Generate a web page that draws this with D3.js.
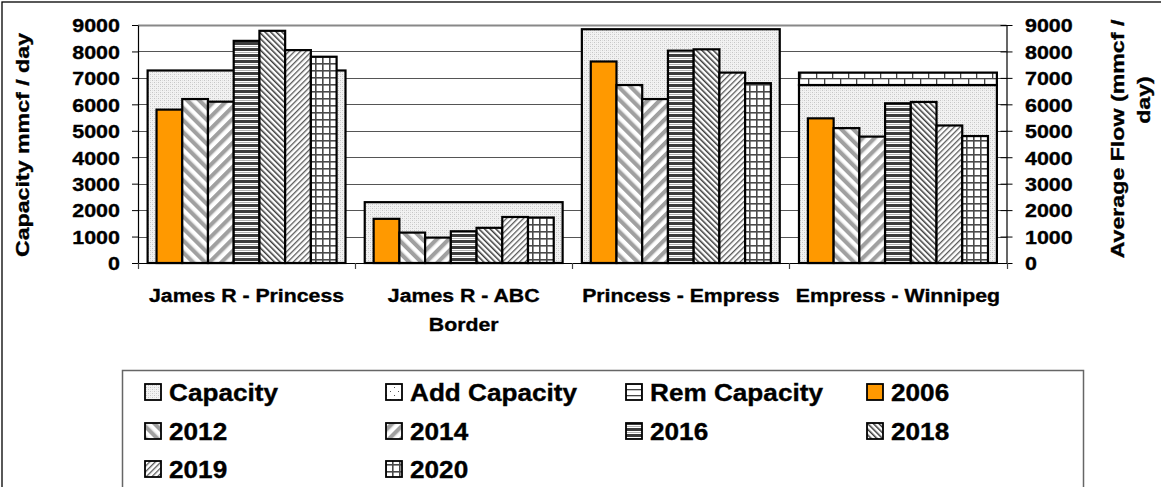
<!DOCTYPE html>
<html><head><meta charset="utf-8">
<script src="https://cdn.jsdelivr.net/npm/d3@7"></script>
<style>
html,body{margin:0;padding:0;background:#fff;}
svg{display:block;font-family:"Liberation Sans",Arial,sans-serif;font-weight:bold;}
svg text{stroke:#000;stroke-width:0.35px;}
</style></head><body>
<svg id="c" width="1161" height="487"></svg>
<script>
// ---------- data ----------
const categories = ["James R - Princess", "James R - ABC Border", "Princess - Empress", "Empress - Winnipeg"];
const categoryLines = [["James R - Princess"], ["James R - ABC", "Border"], ["Princess - Empress"], ["Empress - Winnipeg"]];
const capacity    = [7280, 2300, 8840, 6730];
const addCapacity = [0, 0, 0, 0];
const remCapacity = [0, 0, 0, 470];
const flow2006 = [5800, 1670, 7620, 5470];
const flow2012 = [6200, 1150, 6730, 5100];
const flow2014 = [6100, 960, 6200, 4780];
const flow2016 = [8400, 1200, 8030, 6040];
const flow2018 = [8780, 1330, 8080, 6090];
const flow2019 = [8050, 1740, 7200, 5200];
const flow2020 = [7800, 1720, 6800, 4800];
const years = ["2006", "2012", "2014", "2016", "2018", "2019", "2020"];
const yTicks = [0, 1000, 2000, 3000, 4000, 5000, 6000, 7000, 8000, 9000];
const legendLabels = ["Capacity", "Add Capacity", "Rem Capacity", "2006", "2012", "2014", "2016", "2018", "2019", "2020"];
const leftTitle = "Capacity mmcf / day";
const rightTitleLines = ["Average Flow (mmcf /", "day)"];

const flowSeries = [flow2006, flow2012, flow2014, flow2016, flow2018, flow2019, flow2020];

// ---------- setup ----------
const svg = d3.select("#c");
const defs = svg.append("defs");
function pat(id, w, h, tr, draw) {
  const p = defs.append("pattern").attr("id", id).attr("patternUnits", "userSpaceOnUse")
    .attr("width", w).attr("height", h);
  if (tr) p.attr("patternTransform", tr);
  draw(p);
}
function r(p, x, y, w, h, f) { p.append("rect").attr("x", x).attr("y", y).attr("width", w).attr("height", h).attr("fill", f); }

pat("pCap", 4, 4, null, p => { r(p,0,0,4,4,"#f2f2f2"); r(p,0,0,1,1,"#c6c6c6"); r(p,2,2,1,1,"#c6c6c6"); r(p,2,0,1,1,"#dedede"); r(p,0,2,1,1,"#dedede"); });
pat("pAdd", 8, 8, null, p => { r(p,0,0,8,8,"#fff"); r(p,1,2,1,1,"#555"); r(p,5,6,1,1,"#555"); });
pat("pRem", 16, 6, null, p => { r(p,0,0,16,6,"#fff"); r(p,0,0,16,1.3,"#444"); r(p,0,0,1.3,6,"#444"); });
pat("pRem2", 16, 12, null, p => { r(p,0,0,16,12,"#fff"); r(p,0,0,16,1.3,"#444"); r(p,0,6,16,1.3,"#444"); r(p,0,0,1.3,6,"#444"); r(p,8,6,1.3,6,"#444"); });
pat("p2012", 8.5, 8.5, "rotate(-45)", p => { r(p,0,0,8.5,8.5,"#fff"); r(p,0,0,4,8.5,"#a0a0a0"); r(p,4,0,0.9,8.5,"#d2d2d2"); });
pat("p2014", 8.5, 8.5, "rotate(45)", p => { r(p,0,0,8.5,8.5,"#fff"); r(p,0,0,4,8.5,"#a0a0a0"); r(p,4,0,0.9,8.5,"#d2d2d2"); });
pat("p2016", 4, 6, null, p => { r(p,0,0,4,6,"#fff"); r(p,0,0,4,3,"#3c3c3c"); r(p,0,4,4,1,"#b0b0b0"); });
pat("p2018", 4, 4, "rotate(-45)", p => { r(p,0,0,4,4,"#fff"); r(p,0,0,1.5,4,"#3a3a3a"); });
pat("p2019", 4, 4, "rotate(45)", p => { r(p,0,0,4,4,"#fff"); r(p,0,0,1.3,4,"#5a5a5a"); });
pat("p2020", 7, 7, null, p => { r(p,0,0,7,7,"#fff"); r(p,0,0,7,1.6,"#4a4a4a"); r(p,0,0,1.6,7,"#4a4a4a"); });

const yearFills = ["#FF9900", "url(#p2012)", "url(#p2014)", "url(#p2016)", "url(#p2018)", "url(#p2019)", "url(#p2020)"];
const legendFills = ["url(#pCap)", "url(#pAdd)", "url(#pRem)", "#FF9900", "url(#p2012)", "url(#p2014)", "url(#p2016)", "url(#p2018)", "url(#p2019)", "url(#p2020)"];

// outer border
svg.append("rect").attr("x", 2).attr("y", 2).attr("width", 1200).attr("height", 600)
  .attr("fill", "#fff").attr("stroke", "#000").attr("stroke-width", 1.3);

const L = 138, R = 1006.5, T = 25, B = 263;
const y = d3.scaleLinear().domain([0, 9000]).range([B, T]);
const x0 = d3.scaleBand().domain(categories).range([L, R]).padding(0);
const step = x0.bandwidth();
const xCap = d3.scaleBand().domain(["cap"]).range([0, step]).paddingInner(0.0886).paddingOuter(0.0443);
const x1 = d3.scaleBand().domain(years).range([0, step]).paddingInner(0).paddingOuter(0.72);

// gridlines
svg.append("g").selectAll("line").data(yTicks).join("line")
  .attr("x1", L).attr("x2", R).attr("y1", d => Math.round(y(d)) + 0.5).attr("y2", d => Math.round(y(d)) + 0.5)
  .attr("stroke", d => d === 9000 ? "#888" : "#555").attr("stroke-width", d => d === 9000 ? 2 : 1);

// capacity stacks
const cg = svg.append("g");
categories.forEach((c, i) => {
  const segs = [
    { v0: 0, v1: capacity[i], f: "url(#pCap)" },
    { v0: capacity[i], v1: capacity[i] + addCapacity[i], f: "url(#pAdd)" },
    { v0: capacity[i] + addCapacity[i], v1: capacity[i] + addCapacity[i] + remCapacity[i], f: "url(#pRem2)" }
  ].filter(s => s.v1 > s.v0);
  cg.selectAll(null).data(segs).join("rect")
    .attr("x", x0(c) + xCap("cap")).attr("width", xCap.bandwidth())
    .attr("y", s => y(s.v1)).attr("height", s => y(s.v0) - y(s.v1))
    .attr("fill", s => s.f).attr("stroke", "#000").attr("stroke-width", 2.2);
});

// flow bars
const bg = svg.append("g");
categories.forEach((c, i) => {
  bg.selectAll(null).data(years.map((yr, k) => ({ yr, v: flowSeries[k][i], f: yearFills[k] }))).join("rect")
    .attr("x", d => x0(c) + x1(d.yr)).attr("width", x1.bandwidth())
    .attr("y", d => y(d.v)).attr("height", d => y(0) - y(d.v))
    .attr("fill", d => d.f).attr("stroke", "#000").attr("stroke-width", 2.2);
});

// axes
const fsT = 19, sxT = 1.13;
const axL = svg.append("g").attr("transform", `translate(${L},0)`)
  .call(d3.axisLeft(y).tickValues(yTicks).tickSize(6).tickSizeOuter(0).tickFormat(d3.format("d")));
const axR = svg.append("g").attr("transform", `translate(${R},0)`)
  .call(d3.axisRight(y).tickValues(yTicks).tickSize(6).tickSizeOuter(0).tickFormat(d3.format("d")));
[axL, axR].forEach(a => { a.select(".domain").attr("stroke", "#000").attr("stroke-width", 1.2); a.selectAll(".tick line").attr("stroke", "#000"); });
axR.selectAll(".tick line").attr("x1", -6).attr("x2", 6);
axL.selectAll(".tick text").attr("x", 0).attr("dy", "0.36em").attr("transform", `translate(-18,0) scale(${sxT},1)`)
  .attr("font-size", fsT).attr("font-family", null).attr("font-weight", "bold").attr("fill", "#000");
axR.selectAll(".tick text").attr("x", 0).attr("dy", "0.36em").attr("transform", `translate(18.5,0) scale(${sxT},1)`)
  .attr("font-size", fsT).attr("font-family", null).attr("font-weight", "bold").attr("fill", "#000");
axL.attr("font-family", null); axR.attr("font-family", null);

// x axis line and boundary ticks
svg.append("line").attr("x1", L).attr("x2", R).attr("y1", B + 0.5).attr("y2", B + 0.5).attr("stroke", "#000").attr("stroke-width", 1.2);
const bounds = categories.map(c => x0(c)).concat([x0(categories[categories.length - 1]) + step]);
svg.append("g").selectAll("line").data(bounds).join("line")
  .attr("x1", d => Math.round(d) + 0.5).attr("x2", d => Math.round(d) + 0.5).attr("y1", B).attr("y2", B + 6)
  .attr("stroke", "#444").attr("stroke-width", 1.2);

// category labels
const sxX = 1.12;
categories.forEach((c, i) => {
  categoryLines[i].forEach((ln, j) => {
    svg.append("text").attr("transform", `translate(${x0(c) + step / 2},${302 + j * 29}) scale(${sxX},1)`)
      .attr("text-anchor", "middle").attr("font-size", fsT).text(ln);
  });
});

// axis titles
const sxTitle = 1.22;
svg.append("text").attr("transform", `translate(29,145) rotate(-90) scale(${sxTitle},1)`)
  .attr("text-anchor", "middle").attr("font-size", fsT).text(leftTitle);
svg.append("text").attr("transform", `translate(1124,139) rotate(-90) scale(${sxTitle},1)`)
  .attr("text-anchor", "middle").attr("font-size", fsT).text(rightTitleLines[0]);
svg.append("text").attr("transform", `translate(1150,100) rotate(-90) scale(${sxTitle},1)`)
  .attr("text-anchor", "middle").attr("font-size", fsT).text(rightTitleLines[1]);

// legend
svg.append("rect").attr("x", 122.5).attr("y", 370.5).attr("width", 961).attr("height", 200)
  .attr("fill", "#fff").attr("stroke", "#666").attr("stroke-width", 1.5);
const colX = [144, 385, 625, 866], rowB = [401, 440, 478];
const lg = svg.append("g").selectAll("g").data(legendLabels).join("g")
  .attr("transform", (d, i) => `translate(${colX[i % 4]},${rowB[Math.floor(i / 4)]})`);
lg.append("rect").attr("x", 1).attr("y", -17).attr("width", 16).attr("height", 16)
  .attr("fill", (d, i) => legendFills[i]).attr("stroke", "#000").attr("stroke-width", 1.8);
lg.append("text").attr("transform", "translate(25,0) scale(1.09,1)").attr("font-size", 24).text(d => d);
</script>
</body></html>
